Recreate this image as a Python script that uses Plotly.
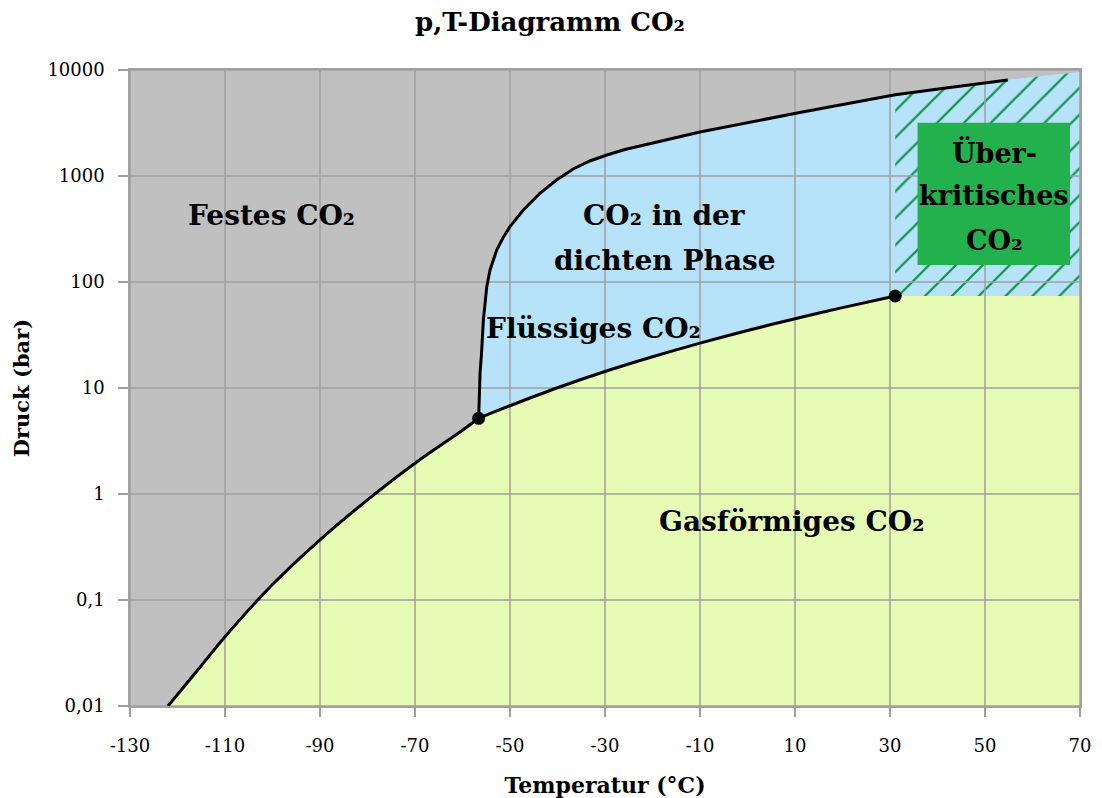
import math
import plotly.graph_objects as go

# ---- data ----
T_MIN, T_MAX = -130, 70
P_MIN, P_MAX = 0.01, 10000

x_ticks = [-130, -110, -90, -70, -50, -30, -10, 10, 30, 50, 70]
x_ticktext = ["-130", "-110", "-90", "-70", "-50", "-30", "-10", "10", "30", "50", "70"]
y_ticks = [0.01, 0.1, 1, 10, 100, 1000, 10000]
y_ticktext = ["0,01", "0,1", "1", "10", "100", "1000", "10000"]

# sublimation curve (solid/gas)
sub_T = [-122, -115, -110, -100, -90, -80, -70, -60, -56.6]
sub_p = [0.0100, 0.024, 0.045, 0.14, 0.37, 0.88, 1.95, 4.0, 5.18]
# vapour pressure curve (liquid/gas)
vap_T = [-56.6, -50, -40, -30, -20, -10, 0, 10, 20, 31.1]
vap_p = [5.18, 6.8, 10.05, 14.3, 19.7, 26.5, 34.9, 45.0, 57.3, 73.8]
# melting curve (solid/liquid)
melt_T = [-56.6, -56.5, -56.3, -56.0, -55.6, -55.2, -54.9, -54.2, -53.5, -52.8, -51.5, -50.0,
          -47.2, -43.7, -40.2, -36.7, -33.2, -29.6, -25.8, -21.2, -10, 11, 31.1, 42.6, 54.8]
melt_p = [5.18, 9, 14, 21, 44, 66, 90, 130, 165, 200, 260, 333,
          478, 687, 917, 1164, 1385, 1578, 1778, 1983, 2600, 3970, 5850, 6830, 8050]
melt_edge_p = 9580   # where the phase boundary meets the right edge

triple = (-56.6, 5.18)
critical = (31.1, 73.8)

# supercritical label box
box_T = [35.8, 67.9]
box_p = [144.5, 3186]

GRAY = "#c0c0c0"
BLUE = "#b6e2fa"
LGREEN = "#e6fcb4"
GREEN = "#22b14c"
HATCH = "#0f9446"
GRID = "#a0a0a0"
SERIF = "DejaVu Serif"

fig = go.Figure()

# gas region
gx = sub_T + vap_T[1:] + [T_MAX, T_MAX, sub_T[0]]
gy = sub_p + vap_p[1:] + [critical[1], P_MIN, P_MIN]
fig.add_trace(go.Scatter(x=gx, y=gy, fill="toself", fillcolor=LGREEN,
                         mode="none", hoverinfo="skip"))

# liquid / dense phase region
lx = melt_T + [T_MAX, T_MAX] + vap_T[::-1]
ly = melt_p + [melt_edge_p, critical[1]] + vap_p[::-1]
fig.add_trace(go.Scatter(x=lx, y=ly, fill="toself", fillcolor=BLUE,
                         mode="none", hoverinfo="skip"))

# supercritical hatched region
i = melt_T.index(critical[0])
sx = [critical[0]] + melt_T[i:] + [T_MAX, T_MAX]
sy = [critical[1]] + melt_p[i:] + [melt_edge_p, critical[1]]
fig.add_trace(go.Scatter(x=sx, y=sy, fill="toself", fillcolor=BLUE,
                         fillpattern=dict(shape="/", fgcolor=HATCH, fgopacity=1, size=19,
                                          solidity=0.12, fillmode="overlay"),
                         mode="none", hoverinfo="skip"))

# grid lines (drawn above the fills)
gxl, gyl = [], []
for v in x_ticks:
    gxl += [v, v, None]
    gyl += [P_MIN, P_MAX, None]
for v in y_ticks:
    gxl += [T_MIN, T_MAX, None]
    gyl += [v, v, None]
fig.add_trace(go.Scatter(x=gxl, y=gyl, mode="lines",
                         line=dict(color=GRID, width=1.5), hoverinfo="skip"))

# green box
fig.add_trace(go.Scatter(x=[box_T[0], box_T[1], box_T[1], box_T[0], box_T[0]],
                         y=[box_p[0], box_p[0], box_p[1], box_p[1], box_p[0]],
                         fill="toself", fillcolor=GREEN, mode="none", hoverinfo="skip"))

# phase boundary lines
for xs, ys, sm in [(sub_T, sub_p, 0.8), (vap_T, vap_p, 0.8), (melt_T, melt_p, 0.0)]:
    line = dict(color="black", width=3)
    if sm > 0:
        line.update(shape="spline", smoothing=sm)
    fig.add_trace(go.Scatter(x=xs, y=ys, mode="lines", line=line, hoverinfo="skip"))

fig.add_trace(go.Scatter(x=[triple[0], critical[0]], y=[triple[1], critical[1]],
                         mode="markers", marker=dict(color="black", size=13),
                         hoverinfo="skip"))

labels = [
    ("Festes CO₂", -100.3, 428, 28),
    ("CO₂ in der", -17.4, 428, 28),
    ("dichten Phase", -17.4, 161, 28),
    ("Flüssiges CO₂", -32.5, 36.8, 28),
    ("Gasförmiges CO₂", 9.2, 0.545, 28),
    ("Über-", 51.9, 1680, 27),
    ("kritisches", 51.9, 660, 27),
    ("CO₂", 51.9, 249, 27),
]
for txt, t, p, fs in labels:
    fig.add_annotation(x=t, y=math.log10(p), text="<b>%s</b>" % txt,
                       showarrow=False, font=dict(family=SERIF, size=fs, color="black"),
                       xanchor="center", yanchor="middle")

OFF = 8  # page body margin of the browser
fig.update_layout(
    width=1102 - OFF, height=798 - OFF,
    margin=dict(l=130 - OFF, r=22, t=70 - OFF, b=92, autoexpand=False),
    paper_bgcolor="white", plot_bgcolor=GRAY,
    showlegend=False,
    title=dict(text="<b>p,T-Diagramm CO₂</b>", x=(550 - OFF) / (1102 - OFF), xanchor="center",
               y=1 - (22 - OFF) / (798 - OFF), yanchor="middle", yref="container",
               font=dict(family=SERIF, size=26, color="black")),
    font=dict(family=SERIF, color="black"),
)
fig.update_xaxes(range=[T_MIN, T_MAX], tickvals=x_ticks, ticktext=x_ticktext,
                 showgrid=False, zeroline=False, automargin=False,
                 showline=True, mirror=True, linecolor=GRID, linewidth=1.5,
                 ticks="outside", ticklen=9, tickcolor=GRID, tickwidth=1.5,
                 ticklabelstandoff=14,
                 tickfont=dict(family=SERIF, size=18, color="black"),
                 title=dict(text="<b>Temperatur (°C)</b>", standoff=32,
                            font=dict(family=SERIF, size=22, color="black")))
fig.update_yaxes(type="log", range=[math.log10(P_MIN), math.log10(P_MAX)],
                 tickvals=y_ticks, ticktext=y_ticktext, showgrid=False, zeroline=False,
                 automargin=False,
                 showline=True, mirror=True, linecolor=GRID, linewidth=1.5,
                 ticks="outside", ticklen=10, tickcolor=GRID, tickwidth=1.5,
                 ticklabelstandoff=10,
                 tickfont=dict(family=SERIF, size=18, color="black"),
                 title=dict(text="<b>Druck (bar)</b>", standoff=12,
                            font=dict(family=SERIF, size=21, color="black")))

fig.write_html("out.html")
